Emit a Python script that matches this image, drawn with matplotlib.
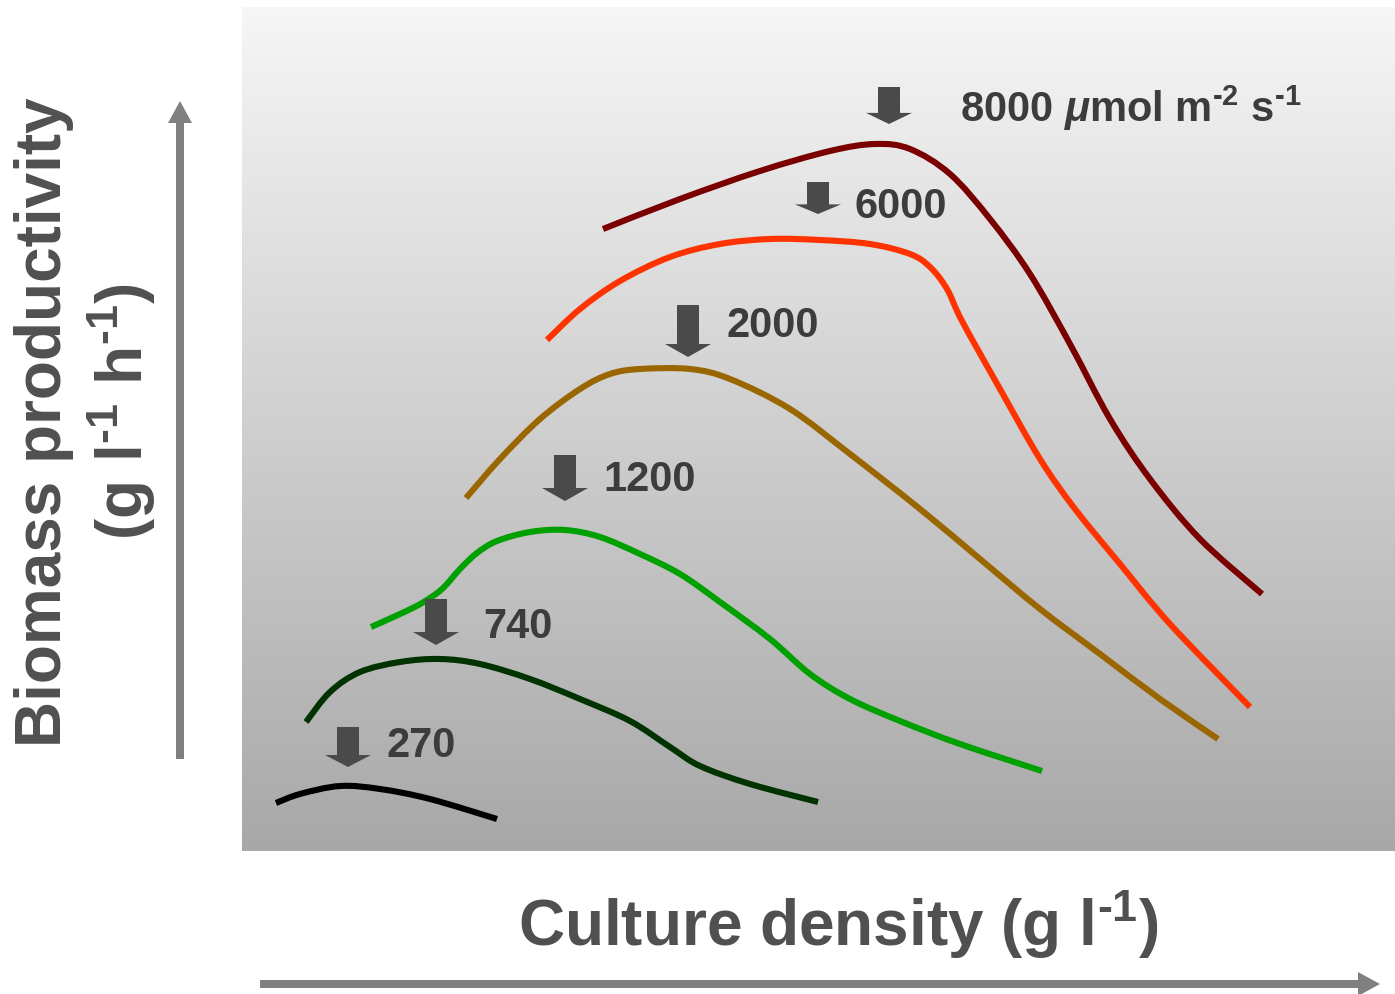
import numpy as np
import matplotlib
matplotlib.use("Agg")
import matplotlib.pyplot as plt
from matplotlib.patches import FancyArrow, PathPatch
from matplotlib.path import Path
from matplotlib.colors import LinearSegmentedColormap

plt.rcParams['font.family'] = ['Liberation Sans', 'DejaVu Sans']
plt.rcParams['mathtext.fontset'] = 'custom'
plt.rcParams['mathtext.rm'] = 'Liberation Sans:bold'
plt.rcParams['mathtext.bf'] = 'Liberation Sans:bold'
plt.rcParams['mathtext.it'] = 'Liberation Sans:italic:bold'
plt.rcParams['mathtext.default'] = 'rm'

# ---- data (arbitrary units: culture density, biomass productivity) ----
irradiance = ["270", "740", "1200", "2000", "6000", "8000"]
colors = ["#000000", "#003300", "#00a000", "#996600", "#ff3300", "#7a0000"]

x_270 = [34, 58, 98, 138, 188, 255]
y_270 = [48, 57, 65, 62, 52, 32]

x_740 = [64, 88, 118, 158, 198, 238, 288, 338, 388, 428, 458, 508, 576]
y_740 = [129, 159, 179, 189, 192, 187, 172, 152, 130, 104, 85, 67, 49]

x_1200 = [129, 158, 180, 200, 218, 235, 255, 288, 323, 358, 398, 438, 478, 528, 568, 608, 658, 718, 800]
y_1200 = [224, 237, 248, 262, 282, 298, 310, 319, 321, 314, 297, 277, 249, 212, 177, 152, 130, 107, 80]

x_2000 = [224, 258, 298, 338, 368, 398, 448, 488, 548, 608, 678, 738, 798, 858, 918, 976]
y_2000 = [353, 392, 432, 462, 477, 482, 482, 472, 442, 397, 342, 292, 242, 197, 152, 112]

x_6000 = [305, 338, 378, 428, 478, 528, 578, 628, 668, 688, 705, 720, 758, 798, 833, 878, 928, 1008]
y_6000 = [511, 542, 570, 594, 607, 612, 611, 607, 597, 584, 562, 530, 462, 392, 342, 287, 227, 144]

x_8000 = [361, 438, 518, 588, 633, 668, 708, 748, 788, 828, 868, 908, 958, 1020]
y_8000 = [622, 652, 680, 700, 707, 702, 677, 632, 577, 507, 432, 372, 312, 257]

curves_x = [x_270, x_740, x_1200, x_2000, x_6000, x_8000]
curves_y = [y_270, y_740, y_1200, y_2000, y_6000, y_8000]

# optimum markers (x position, arrow top, arrow tip)
opt_x = [106, 194, 323, 446, 576, 647]
opt_top = [124, 252, 396, 546, 669, 764]
opt_tip = [84, 206, 350, 494, 637, 727]

# labels next to markers
label_x = [145, 241, 361, 484, 612, 718]
label_y = [106, 225, 372, 526, 645, 744]
label_txt = ["270", "740", "1200", "2000", "6000",
             r"8000 $\mathit{\mu}$mol m$^{\text{-}2}$ s$^{\text{-}1}$"]


def smooth_path(xs, ys):
    """Cubic Bezier path through the given points (Catmull-Rom tangents)."""
    p = np.column_stack([xs, ys]).astype(float)
    n = len(p)
    verts = [p[0]]
    codes = [Path.MOVETO]
    for i in range(n - 1):
        p0 = p[i - 1] if i > 0 else p[i]
        p1, p2 = p[i], p[i + 1]
        p3 = p[i + 2] if i + 2 < n else p[i + 1]
        c1 = p1 + (p2 - p0) / 6.0
        c2 = p2 - (p3 - p1) / 6.0
        verts += [c1, c2, p2]
        codes += [Path.CURVE4] * 3
    return Path(verts, codes)


W, H = 1395, 995
fig = plt.figure(figsize=(W / 100, H / 100), dpi=100)
fig.patch.set_facecolor("white")

# panel axes
ax = fig.add_axes([242 / W, (H - 852) / H, (1395 - 242) / W, (852 - 8) / H])
ax.set_xlim(0, 1153)
ax.set_ylim(0, 844)
ax.axis("off")

grad = np.linspace(0, 1, 256).reshape(-1, 1)
cmap = LinearSegmentedColormap.from_list("g", ["#a8a8a8", "#f6f6f6"])
ax.imshow(grad, cmap=cmap, aspect="auto", extent=[0, 1153, 0, 844],
          origin="lower", zorder=0)

for xs, ys, c in zip(curves_x, curves_y, colors):
    ax.add_patch(PathPatch(smooth_path(xs, ys), facecolor="none", edgecolor=c,
                           lw=4.4, capstyle="butt", joinstyle="round", zorder=2))

for xo, top, tip in zip(opt_x, opt_top, opt_tip):
    length = top - tip
    hl = min(13, length * 0.3)
    ax.add_patch(FancyArrow(xo, top, 0, -length, width=22, head_width=46,
                            head_length=hl, length_includes_head=True,
                            color="#4a4a4a", lw=0, zorder=3))

for lx, ly, t in zip(label_x, label_y, label_txt):
    ax.text(lx, ly, t, fontsize=30, fontweight="bold", color="#3c3c3c",
            ha="left", va="center", zorder=4)

# overlay axes for axis arrows and titles (figure pixel coords)
ov = fig.add_axes([0, 0, 1, 1])
ov.set_xlim(0, W)
ov.set_ylim(H, 0)
ov.axis("off")
ov.patch.set_alpha(0)

ov.add_patch(FancyArrow(180, 760, 0, -658, width=8, head_width=24,
                        head_length=22, length_includes_head=True,
                        color="#808080", lw=0))
ov.add_patch(FancyArrow(260, 985, 1120, 0, width=8, head_width=24,
                        head_length=22, length_includes_head=True,
                        color="#808080", lw=0))

ov.text(838, 925, r"Culture density (g l$^{\text{-}1}$)", fontsize=46,
        fontweight="bold", color="#505050", ha="center", va="center")
ov.text(44, 422, "Biomass productivity", fontsize=46, fontweight="bold",
        color="#505050", ha="center", va="center", rotation=90)
ov.text(122, 412, r"(g l$^{\text{-}1}$ h$^{\text{-}1}$)", fontsize=46,
        fontweight="bold", color="#505050", ha="center", va="center",
        rotation=90)

fig.savefig("out.png", dpi=100)
